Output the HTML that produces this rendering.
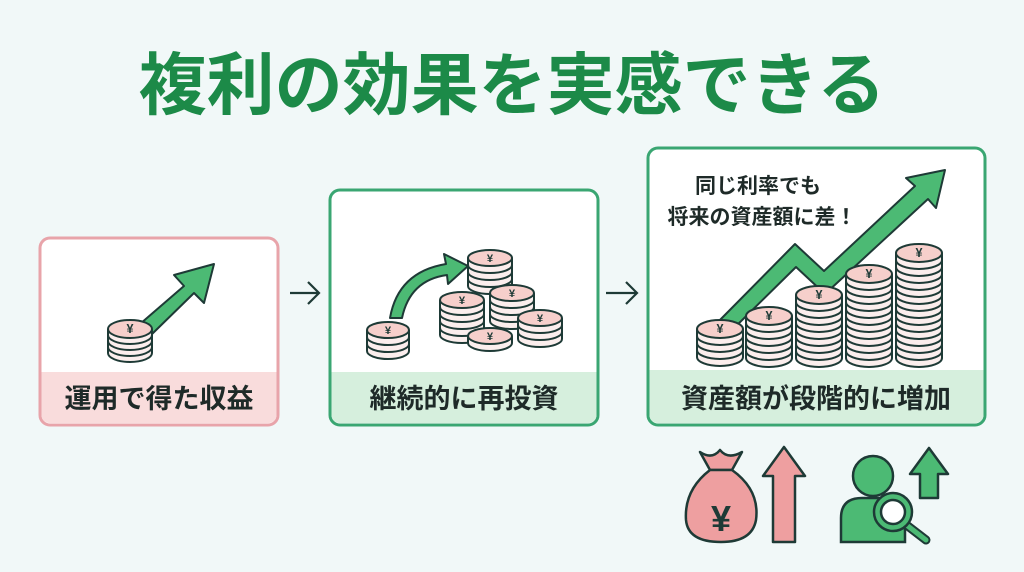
<!DOCTYPE html>
<html><head><meta charset="utf-8"><style>
html,body{margin:0;padding:0;background:#f1f8f8;}
svg{display:block}
text{font-family:"Liberation Sans","Noto Sans CJK JP",sans-serif;font-weight:bold}
</style></head><body>
<svg id="s" width="1024" height="572" viewBox="0 0 1024 572" xmlns="http://www.w3.org/2000/svg">
<rect width="1024" height="572" fill="#f1f8f8"/>
<text x="512" y="109" text-anchor="middle" font-size="68" fill="#1c8a48">複利の効果を実感できる</text>

<!-- box1 -->
<rect x="40" y="238" width="238" height="187" rx="10" fill="#fff" stroke="#e8a4aa" stroke-width="3"/>
<path d="M41.5 372 H276.5 V415 a8 8 0 0 1 -8 8 H49.5 a8 8 0 0 1 -8 -8 Z" fill="#f9dcdc"/>
<text x="159" y="408" text-anchor="middle" font-size="27" fill="#1e2a28">運用で得た収益</text>
<!-- box2 -->
<rect x="330" y="190" width="268" height="235" rx="10" fill="#fff" stroke="#3aa672" stroke-width="3"/>
<path d="M331.5 372 H596.5 V415 a8 8 0 0 1 -8 8 H339.5 a8 8 0 0 1 -8 -8 Z" fill="#d6efdd"/>
<text x="464" y="408" text-anchor="middle" font-size="27" fill="#1e2a28">継続的に再投資</text>
<!-- box3 -->
<rect x="648" y="148" width="337" height="277" rx="10" fill="#fff" stroke="#3aa672" stroke-width="3"/>
<path d="M649.5 370 H983.5 V415 a8 8 0 0 1 -8 8 H657.5 a8 8 0 0 1 -8 -8 Z" fill="#d6efdd"/>
<text x="816" y="408" text-anchor="middle" font-size="27" fill="#1e2a28">資産額が段階的に増加</text>

<!-- connectors -->
<path d="M290 293 H318 M308 282 L319 293 L308 304" fill="none" stroke="#1e3a36" stroke-width="2.2"/>
<path d="M606 293 H636 M626 282 L637 293 L626 304" fill="none" stroke="#1e3a36" stroke-width="2.2"/>

<!-- box1 arrow -->
<polygon points="140,324 184,286 174,275 214,264 204,303 194,293 150,336" fill="#4cba74" stroke="#1e3a36" stroke-width="2" stroke-linejoin="round"/>
<g id="c1"></g>
<!-- box2 curved arrow -->
<path d="M390 318 Q398 272 446 264 L444 254 L468 266 L448 284 L447 275 Q410 280 402 318 Z" fill="#4cba74" stroke="#1e3a36" stroke-width="2" stroke-linejoin="round"/>
<g id="c2"></g>
<!-- box3 zigzag arrow -->
<polygon points="716,324 795,244 824,271 915,186 906,178 945,170 936,208 928,199 825,294 796,267 728,334" fill="#4cba74" stroke="#1e3a36" stroke-width="2" stroke-linejoin="round"/>
<g id="c3"></g>
<text x="758" y="193" text-anchor="middle" font-size="21" fill="#1e2a28">同じ利率でも</text>
<text x="762" y="224" text-anchor="middle" font-size="21" fill="#1e2a28">将来の資産額に差！</text>

<!-- money bag -->
<g stroke="#1e3a36" stroke-width="2.5" stroke-linejoin="round">
<path d="M700 452 Q712 460 720 450 Q728 460 742 452 L732 470 H710 Z" fill="#ee9fa0"/>
<path d="M710 470 H732 Q760 490 756 520 Q752 542 721 542 Q688 542 686 520 Q684 490 710 470 Z" fill="#ee9fa0"/>
</g>
<text x="721" y="531" text-anchor="middle" font-size="36" fill="#1e3a36">¥</text>
<polygon points="784,447 805,476 795,476 795,542 773,542 773,476 763,476" fill="#ee9fa0" stroke="#1e3a36" stroke-width="2.5" stroke-linejoin="round"/>
<!-- person -->
<g stroke="#1e3a36" stroke-width="2.5">
<circle cx="873" cy="476" r="20" fill="#4cba74"/>
<path d="M841 542 V518 Q841 498 862 498 H885 Q905 498 905 518 V542 Z" fill="#4cba74"/>
<line x1="900" y1="520" x2="926" y2="540" stroke="#1e3a36" stroke-width="9" stroke-linecap="round"/>
<line x1="900" y1="520" x2="926" y2="540" stroke="#4cba74" stroke-width="5" stroke-linecap="round"/>
<circle cx="893" cy="512" r="19" fill="#4cba74"/>
<circle cx="893" cy="512" r="12" fill="#fff"/>
<polygon points="929,448 948,474 938,474 938,498 920,498 920,474 910,474" fill="#4cba74" stroke-linejoin="round"/>
</g>
</svg>
<script>
var NS="http://www.w3.org/2000/svg";
function el(p,t,a){var e=document.createElementNS(NS,t);for(var k in a)e.setAttribute(k,a[k]);p.appendChild(e);return e;}
function stack(g,cx,top,n,rx,ry,gap){
  for(var i=n-1;i>=0;i--){
    var y=top+i*gap;
    el(g,"path",{d:"M"+(cx-rx)+" "+y+" V"+(y+gap)+" A"+rx+" "+ry+" 0 0 0 "+(cx+rx)+" "+(y+gap)+" V"+y,fill:"#fbeeed",stroke:"#1e3a36","stroke-width":2});
  }
  el(g,"ellipse",{cx:cx,cy:top,rx:rx,ry:ry,fill:"#f6cfcb",stroke:"#1e3a36","stroke-width":2});
  var t=el(g,"text",{x:cx,y:top+4,"text-anchor":"middle","font-size":ry*1.4,fill:"#1e3a36"});t.textContent="¥";
}
var c1=document.getElementById("c1");stack(c1,130,329,4,22,9,6);
var c2=document.getElementById("c2");
stack(c2,388,330,3,21,8,7);
stack(c2,490,258,4,22,8,7);
stack(c2,462,300,5,22,8,7);
stack(c2,512,293,4,22,8,7);
stack(c2,540,318,3,22,8,7);
stack(c2,490,336,1,22,8,7);
var c3=document.getElementById("c3");
stack(c3,720,329,4,23,9,7);
stack(c3,769,316,6,23,9,7);
stack(c3,819,295,9,23,9,7);
stack(c3,869,274,12,23,9,7);
stack(c3,919,253,15,23,9,7);
</script>
</body></html>
